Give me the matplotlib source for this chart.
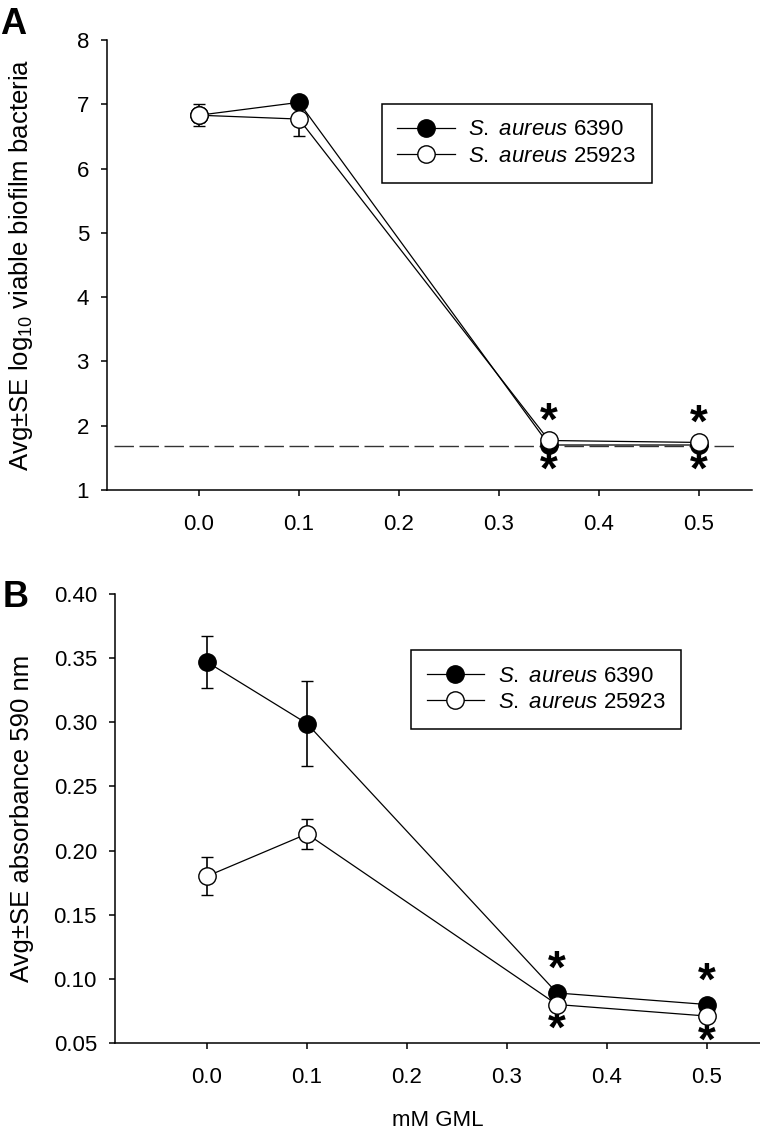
import matplotlib
matplotlib.use("Agg")
import matplotlib.pyplot as plt
from matplotlib.lines import Line2D

plt.rcParams['font.family'] = ['Liberation Sans', 'DejaVu Sans']
plt.rcParams['mathtext.fontset'] = 'custom'
plt.rcParams['mathtext.rm'] = 'Liberation Sans'
plt.rcParams['mathtext.it'] = 'Liberation Sans:italic'

# --- data ---
gml = [0.0, 0.1, 0.35, 0.5]
strain_labels = [r'$\it{S.\ aureus}$ 6390', r'$\it{S.\ aureus}$ 25923']

# panel A: log10 viable biofilm bacteria
a_6390 = [6.83, 7.03, 1.70, 1.70]
a_6390_se = [0.10, 0.05, 0.02, 0.02]
a_25923 = [6.83, 6.77, 1.77, 1.74]
a_25923_se = [0.17, 0.27, 0.03, 0.03]
detection_limit = 1.68
a_signif = [0.35, 0.5]

# panel B: absorbance 590 nm
b_6390 = [0.347, 0.299, 0.089, 0.080]
b_6390_se = [0.020, 0.033, 0.002, 0.002]
b_25923 = [0.180, 0.213, 0.080, 0.071]
b_25923_se = [0.015, 0.012, 0.002, 0.002]
b_signif = [0.35, 0.5]

xticks = [0.0, 0.1, 0.2, 0.3, 0.4, 0.5]
a_yticks = [1, 2, 3, 4, 5, 6, 7, 8]
b_yticks = [0.05, 0.10, 0.15, 0.20, 0.25, 0.30, 0.35, 0.40]

fig = plt.figure(figsize=(7.6, 11.3), dpi=100)
axA = fig.add_axes([107/760, 1 - 490/1130, 645/760, 450/1130])
axB = fig.add_axes([115/760, 1 - 1043/1130, 645/760, 449/1130])

ms = 12.5
lw = 0.9


def draw_series(ax, y, err, face):
    ax.errorbar(gml, y, yerr=err, color='black', lw=lw, elinewidth=1.2,
                capsize=4.5, capthick=1.2, marker='o', ms=ms,
                mfc=face, mec='black', mew=1.0, zorder=3)


def style_axis(ax, yticks, yfmt):
    for s in ['top', 'right']:
        ax.spines[s].set_visible(False)
    for s in ['left', 'bottom']:
        ax.spines[s].set_linewidth(1.1)
    ax.set_xlim(-0.092, 0.553)
    ax.set_xticks(xticks)
    ax.set_xticklabels([f'{t:.1f}' for t in xticks])
    ax.set_yticks(yticks)
    ax.set_yticklabels([yfmt.format(t) for t in yticks])
    ax.set_ylim(yticks[0], yticks[-1])
    ax.tick_params(direction='out', length=4, width=1.1, labelsize=16)
    ax.tick_params(axis='y', pad=9)
    ax.tick_params(axis='x', pad=13)


def stars(ax, xs, top, bottom, up, down):
    for x in xs:
        i = gml.index(x)
        ax.annotate('*', (x, top[i]), xytext=(0, up), textcoords='offset points',
                    ha='center', va='center', fontsize=33, fontweight='bold')
        ax.annotate('*', (x, bottom[i]), xytext=(0, down), textcoords='offset points',
                    ha='center', va='center', fontsize=33, fontweight='bold')


def add_legend(ax, anchor):
    handles = [Line2D([], [], color='black', lw=lw, marker='o', ms=ms, mfc=face, mec='black')
               for face in ['black', 'white']]
    leg = ax.legend(handles, strain_labels, loc='upper left', bbox_to_anchor=anchor,
                    borderaxespad=0, fontsize=16, frameon=True, fancybox=False,
                    edgecolor='black', framealpha=1, handlelength=2.6, borderpad=0.7,
                    labelspacing=0.25, handletextpad=0.6)
    leg.get_frame().set_linewidth(1.1)


# panel A
axA.hlines(detection_limit, -0.085, 0.535, colors='#333333', linestyles=(0, (14, 4)), lw=1.0, zorder=1)
draw_series(axA, a_6390, a_6390_se, 'black')
draw_series(axA, a_25923, a_25923_se, 'white')
style_axis(axA, a_yticks, '{:d}')
axA.set_ylabel(r'Avg±SE log$_{\mathregular{10}}$ viable biofilm bacteria', fontsize=18.5, labelpad=30)
stars(axA, a_signif, a_25923, a_6390, 13, -19)
add_legend(axA, (0.426, 0.858))

# panel B
draw_series(axB, b_6390, b_6390_se, 'black')
draw_series(axB, b_25923, b_25923_se, 'white')
style_axis(axB, b_yticks, '{:.2f}')
axB.set_ylabel('Avg±SE absorbance 590 nm', fontsize=18.5, labelpad=14)
axB.set_xlabel('mM GML', fontsize=16, labelpad=16)
stars(axB, b_signif, b_6390, b_25923, 16, -19)
add_legend(axB, (0.459, 0.875))

fig.text(0.0, 1 - 7/1130, 'A', fontsize=26, fontweight='bold', ha='left', va='top')
fig.text(0.004, 1 - 580/1130, 'B', fontsize=26, fontweight='bold', ha='left', va='top')

fig.savefig('out.png', dpi=100)
